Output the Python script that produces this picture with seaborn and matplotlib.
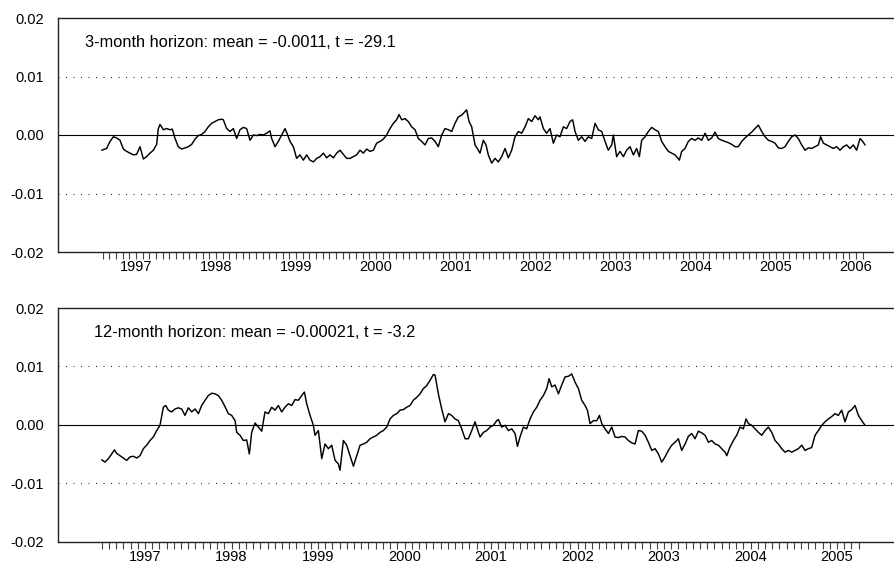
import matplotlib
matplotlib.use("Agg")
import matplotlib.pyplot as plt
import numpy as np
import pandas as pd
import seaborn as sns

# ---- 3-month horizon series (decimal year, value) ----
h3_years = [
    1996.571, 1996.633, 1996.675, 1996.717, 1996.758, 1996.800, 1996.842, 1996.883, 1996.925, 1996.967,
    1997.008, 1997.050, 1997.092, 1997.133, 1997.175, 1997.217, 1997.258, 1997.279, 1997.300, 1997.342,
    1997.383, 1997.425, 1997.454, 1997.488, 1997.529, 1997.571, 1997.613, 1997.654, 1997.696, 1997.738,
    1997.779, 1997.821, 1997.863, 1997.904, 1997.946, 1997.988, 1998.029, 1998.071, 1998.092, 1998.133,
    1998.175, 1998.217, 1998.258, 1998.300, 1998.342, 1998.383, 1998.425, 1998.467, 1998.508, 1998.550,
    1998.592, 1998.633, 1998.675, 1998.696, 1998.738, 1998.779, 1998.821, 1998.863, 1998.896, 1998.925,
    1998.967, 1999.008, 1999.050, 1999.092, 1999.133, 1999.175, 1999.217, 1999.258, 1999.300, 1999.342,
    1999.383, 1999.425, 1999.467, 1999.508, 1999.550, 1999.592, 1999.633, 1999.675, 1999.717, 1999.758,
    1999.800, 1999.842, 1999.883, 1999.925, 1999.967, 2000.008, 2000.050, 2000.092, 2000.133, 2000.175,
    2000.217, 2000.258, 2000.288, 2000.321, 2000.363, 2000.404, 2000.446, 2000.488, 2000.529, 2000.571,
    2000.613, 2000.654, 2000.696, 2000.738, 2000.779, 2000.821, 2000.863, 2000.904, 2000.946, 2000.988,
    2001.029, 2001.071, 2001.113, 2001.133, 2001.163, 2001.196, 2001.238, 2001.279,
    2001.300, 2001.342, 2001.375, 2001.404, 2001.446, 2001.488, 2001.529, 2001.571, 2001.613, 2001.654,
    2001.696, 2001.738, 2001.779, 2001.821, 2001.863, 2001.904, 2001.946, 2001.988, 2002.029, 2002.050,
    2002.092, 2002.133, 2002.175, 2002.217, 2002.258, 2002.300, 2002.342, 2002.383, 2002.425, 2002.458,
    2002.488, 2002.529, 2002.571, 2002.613, 2002.654, 2002.696, 2002.738, 2002.779, 2002.821, 2002.863,
    2002.904, 2002.946, 2002.967, 2003.008, 2003.050, 2003.092, 2003.133, 2003.175, 2003.217, 2003.258,
    2003.292, 2003.321, 2003.363, 2003.404, 2003.446, 2003.488, 2003.529, 2003.571, 2003.613, 2003.654,
    2003.696, 2003.738, 2003.792, 2003.821, 2003.863, 2003.904, 2003.946, 2003.988, 2004.029, 2004.071,
    2004.113, 2004.154, 2004.196, 2004.238, 2004.279, 2004.321, 2004.363, 2004.404, 2004.446, 2004.488,
    2004.529, 2004.571, 2004.613, 2004.654, 2004.696, 2004.738, 2004.779, 2004.821, 2004.863, 2004.904,
    2004.946, 2004.988, 2005.029, 2005.071, 2005.113, 2005.154, 2005.196, 2005.238, 2005.279, 2005.321,
    2005.363, 2005.404, 2005.446, 2005.488, 2005.529, 2005.558, 2005.592, 2005.633, 2005.675, 2005.717,
    2005.758, 2005.800, 2005.842, 2005.883, 2005.925, 2005.967, 2006.008, 2006.050, 2006.083, 2006.113,
]
h3_values = [
    -0.0026, -0.0023, -0.0011, -0.0003, -0.0005, -0.0009, -0.0024, -0.0028, -0.0031, -0.0034,
    -0.0033, -0.0020, -0.0041, -0.0037, -0.0031, -0.0026, -0.0016, 0.0011, 0.0018, 0.0009,
    0.0011, 0.0009, 0.0010, -0.0006, -0.0020, -0.0024, -0.0022, -0.0020, -0.0016, -0.0007,
    -0.0001, 0.0001, 0.0006, 0.0014, 0.0020, 0.0023, 0.0026, 0.0027, 0.0026, 0.0011,
    0.0006, 0.0011, -0.0006, 0.0009, 0.0013, 0.0011, -0.0009, 0.0000, -0.0001, 0.0001,
    0.0000, 0.0003, 0.0007, -0.0006, -0.0020, -0.0011, 0.0000, 0.0011, 0.0000, -0.0011,
    -0.0020, -0.0040, -0.0034, -0.0043, -0.0034, -0.0043, -0.0046, -0.0040, -0.0037, -0.0031,
    -0.0039, -0.0034, -0.0039, -0.0031, -0.0026, -0.0033, -0.0040, -0.0040, -0.0037, -0.0034,
    -0.0026, -0.0031, -0.0024, -0.0028, -0.0026, -0.0014, -0.0011, -0.0007, 0.0000, 0.0011,
    0.0020, 0.0026, 0.0035, 0.0026, 0.0028, 0.0023, 0.0014, 0.0009, -0.0006, -0.0011,
    -0.0017, -0.0006, -0.0005, -0.0011, -0.0020, 0.0000, 0.0011, 0.0009, 0.0006, 0.0020,
    0.0031, 0.0034, 0.0040, 0.0043, 0.0023, 0.0014, -0.0017, -0.0026,
    -0.0031, -0.0009, -0.0017, -0.0034, -0.0048, -0.0040, -0.0046, -0.0037, -0.0023, -0.0039,
    -0.0026, -0.0003, 0.0006, 0.0003, 0.0014, 0.0028, 0.0023, 0.0033, 0.0026, 0.0031,
    0.0011, 0.0003, 0.0011, -0.0014, 0.0000, -0.0003, 0.0014, 0.0011, 0.0023, 0.0026,
    0.0006, -0.0009, -0.0003, -0.0011, -0.0003, -0.0006, 0.0020, 0.0009, 0.0006, -0.0011,
    -0.0026, -0.0017, 0.0000, -0.0037, -0.0028, -0.0037, -0.0026, -0.0020, -0.0034, -0.0023,
    -0.0037, -0.0009, -0.0003, 0.0006, 0.0013, 0.0009, 0.0006, -0.0011, -0.0020, -0.0028,
    -0.0031, -0.0034, -0.0043, -0.0028, -0.0023, -0.0011, -0.0006, -0.0009, -0.0005, -0.0009,
    0.0003, -0.0009, -0.0005, 0.0005, -0.0006, -0.0009, -0.0011, -0.0013, -0.0016, -0.0020,
    -0.0020, -0.0011, -0.0005, 0.0000, 0.0005, 0.0011, 0.0017, 0.0006, -0.0003, -0.0009,
    -0.0011, -0.0014, -0.0022, -0.0023, -0.0020, -0.0011, -0.0003, 0.0000, -0.0006, -0.0017,
    -0.0026, -0.0022, -0.0023, -0.0020, -0.0017, -0.0003, -0.0014, -0.0017, -0.0020, -0.0023,
    -0.0020, -0.0026, -0.0020, -0.0017, -0.0023, -0.0017, -0.0026, -0.0006, -0.0011, -0.0017,
]

# ---- 12-month horizon series (decimal year, value) ----
h12_years = [
    1996.499, 1996.538, 1996.576, 1996.615, 1996.646, 1996.672, 1996.711, 1996.750, 1996.788, 1996.827,
    1996.865, 1996.904, 1996.942, 1996.981, 1997.019, 1997.058, 1997.096, 1997.135, 1997.173, 1997.212,
    1997.239, 1997.270, 1997.308, 1997.347, 1997.385, 1997.424, 1997.462, 1997.501, 1997.540, 1997.578,
    1997.617, 1997.655, 1997.694, 1997.732, 1997.771, 1997.809, 1997.848, 1997.886, 1997.925, 1997.963,
    1998.002, 1998.041, 1998.060, 1998.098, 1998.137, 1998.175, 1998.206, 1998.233, 1998.272, 1998.310,
    1998.349, 1998.387, 1998.426, 1998.464, 1998.503, 1998.541, 1998.580, 1998.618, 1998.657, 1998.696,
    1998.734, 1998.773, 1998.811, 1998.842, 1998.869, 1998.908, 1998.946, 1998.965, 1999.004, 1999.043,
    1999.081, 1999.120, 1999.158, 1999.197, 1999.235, 1999.254, 1999.293, 1999.331, 1999.370, 1999.409,
    1999.447, 1999.486, 1999.524, 1999.563, 1999.601, 1999.640, 1999.678, 1999.717, 1999.755, 1999.794,
    1999.833, 1999.871, 1999.910, 1999.948, 1999.987, 2000.025, 2000.064, 2000.102, 2000.141, 2000.179,
    2000.218, 2000.256, 2000.295, 2000.333, 2000.353, 2000.391, 2000.430, 2000.468, 2000.507, 2000.545,
    2000.584, 2000.622, 2000.661, 2000.700, 2000.738, 2000.777, 2000.815, 2000.854,
    2000.873, 2000.912, 2000.950, 2000.989, 2001.027, 2001.066, 2001.085, 2001.123, 2001.162, 2001.201,
    2001.239, 2001.278, 2001.305, 2001.335, 2001.374, 2001.412, 2001.451, 2001.490, 2001.528, 2001.567,
    2001.605, 2001.644, 2001.671, 2001.702, 2001.740, 2001.779, 2001.817, 2001.856, 2001.894, 2001.933,
    2001.971, 2002.010, 2002.048, 2002.087, 2002.114, 2002.145, 2002.183, 2002.222, 2002.253, 2002.280,
    2002.318, 2002.357, 2002.395, 2002.434, 2002.472, 2002.511, 2002.549, 2002.588, 2002.626, 2002.665,
    2002.703, 2002.742, 2002.781, 2002.819, 2002.858, 2002.896, 2002.935, 2002.973, 2003.012, 2003.050,
    2003.089, 2003.127, 2003.166, 2003.204, 2003.243, 2003.281, 2003.320, 2003.358, 2003.397, 2003.436,
    2003.474, 2003.513, 2003.551, 2003.590, 2003.628, 2003.667, 2003.705, 2003.725, 2003.763, 2003.802,
    2003.840, 2003.879, 2003.917, 2003.948, 2003.975, 2004.014, 2004.052, 2004.091, 2004.129, 2004.168,
    2004.206, 2004.245, 2004.283, 2004.322, 2004.360, 2004.399, 2004.437, 2004.476, 2004.515, 2004.553,
    2004.592, 2004.630, 2004.669, 2004.707, 2004.746, 2004.784, 2004.823, 2004.861, 2004.900, 2004.938,
    2004.977, 2005.015, 2005.054, 2005.092, 2005.131, 2005.170, 2005.208, 2005.247, 2005.285, 2005.324,
]
h12_values = [
    -0.0060, -0.0064, -0.0058, -0.0050, -0.0043, -0.0049, -0.0053, -0.0057, -0.0061, -0.0055,
    -0.0054, -0.0057, -0.0053, -0.0041, -0.0035, -0.0027, -0.0021, -0.0010, -0.0001, 0.0030,
    0.0033, 0.0025, 0.0022, 0.0027, 0.0029, 0.0027, 0.0016, 0.0029, 0.0022, 0.0027,
    0.0019, 0.0033, 0.0042, 0.0050, 0.0054, 0.0053, 0.0050, 0.0042, 0.0031, 0.0019,
    0.0016, 0.0007, -0.0013, -0.0018, -0.0027, -0.0026, -0.0050, -0.0013, 0.0003, -0.0004,
    -0.0011, 0.0022, 0.0019, 0.0030, 0.0025, 0.0033, 0.0022, 0.0030, 0.0036, 0.0033,
    0.0043, 0.0042, 0.0050, 0.0056, 0.0036, 0.0016, -0.0001, -0.0018, -0.0010, -0.0058,
    -0.0033, -0.0041, -0.0035, -0.0061, -0.0067, -0.0078, -0.0027, -0.0035, -0.0053, -0.0071,
    -0.0053, -0.0035, -0.0033, -0.0030, -0.0024, -0.0021, -0.0018, -0.0013, -0.0010, -0.0004,
    0.0010, 0.0016, 0.0019, 0.0025, 0.0026, 0.0030, 0.0033, 0.0042, 0.0047, 0.0053,
    0.0062, 0.0067, 0.0076, 0.0086, 0.0085, 0.0053, 0.0027, 0.0005, 0.0019, 0.0016,
    0.0010, 0.0007, -0.0007, -0.0024, -0.0024, -0.0010, 0.0005, -0.0013,
    -0.0021, -0.0013, -0.0010, -0.0004, -0.0001, 0.0007, 0.0009, -0.0004, -0.0001, -0.0010,
    -0.0007, -0.0015, -0.0037, -0.0021, -0.0004, -0.0007, 0.0010, 0.0022, 0.0030, 0.0042,
    0.0050, 0.0062, 0.0079, 0.0065, 0.0068, 0.0053, 0.0068, 0.0082, 0.0083, 0.0087,
    0.0073, 0.0062, 0.0042, 0.0033, 0.0025, 0.0002, 0.0007, 0.0007, 0.0016, 0.0002,
    -0.0007, -0.0015, -0.0004, -0.0021, -0.0022, -0.0020, -0.0021, -0.0027, -0.0031, -0.0033,
    -0.0010, -0.0011, -0.0018, -0.0030, -0.0044, -0.0041, -0.0050, -0.0064, -0.0055, -0.0044,
    -0.0035, -0.0030, -0.0024, -0.0044, -0.0033, -0.0020, -0.0015, -0.0024, -0.0011, -0.0014,
    -0.0018, -0.0030, -0.0027, -0.0033, -0.0035, -0.0041, -0.0047, -0.0053, -0.0038, -0.0027,
    -0.0018, -0.0004, -0.0007, 0.0010, 0.0002, -0.0001, -0.0007, -0.0013, -0.0018, -0.0010,
    -0.0004, -0.0013, -0.0027, -0.0033, -0.0041, -0.0047, -0.0044, -0.0047, -0.0044, -0.0041,
    -0.0035, -0.0044, -0.0041, -0.0039, -0.0018, -0.0010, -0.0001, 0.0005, 0.0010, 0.0014,
    0.0019, 0.0016, 0.0025, 0.0005, 0.0022, 0.0026, 0.0033, 0.0016, 0.0007, -0.0001,
]

y_ticks = [0.02, 0.01, 0.00, -0.01, -0.02]
y_tick_labels = ["0.02", "0.01", "0.00", "-0.01", "-0.02"]

panels = [
    {
        "years": h3_years, "values": h3_values,
        "xlim": (1996.025, 2006.4875),
        "first_month": (1996, 8), "last_month": (2006, 2),
        "title": "3-month horizon: mean = -0.0011, t = -29.1",
        "title_pos": (0.032, 0.897),
        "rect": [58 / 895, 1 - 252 / 565, 1 - 58 / 895, 234 / 565],
    },
    {
        "years": h12_years, "values": h12_values,
        "xlim": (1995.994, 2005.67),
        "first_month": (1996, 7), "last_month": (2005, 4),
        "title": "12-month horizon: mean = -0.00021, t = -3.2",
        "title_pos": (0.043, 0.893),
        "rect": [58 / 895, 1 - 541.5 / 565, 1 - 58 / 895, 233.5 / 565],
    },
]

sns.set_theme(style="white")
plt.rcParams["font.family"] = ["Liberation Sans", "DejaVu Sans"]
TICK_FS = 10.5
TITLE_FS = 11.8

fig = plt.figure(figsize=(8.95, 5.65), dpi=100)
fig.patch.set_facecolor("white")


def month_ticks(first, last):
    """Monthly tick positions (decimal years) and year labels on Januaries."""
    pos, labels = [], []
    y, m = first
    while (y, m) <= last:
        pos.append(y + (m - 1) / 12)
        labels.append(str(y) if m == 1 else "")
        m += 1
        if m > 12:
            y, m = y + 1, 1
    return pos, labels


for p in panels:
    ax = fig.add_axes(p["rect"])
    ax.set_facecolor("white")
    df = pd.DataFrame({"year": p["years"], "value": p["values"]})
    ax.axhline(0.0, color="black", lw=0.8, zorder=1)
    for gy in (0.01, -0.01):
        ax.axhline(gy, color="#222222", lw=0.75, ls=(0, (1, 6.2)), zorder=1)
    sns.lineplot(data=df, x="year", y="value", ax=ax, color="black",
                 lw=1.05, estimator=None, sort=False, zorder=3)

    ax.set_xlim(*p["xlim"])
    ax.set_ylim(-0.02, 0.02)
    ax.set_xlabel("")
    ax.set_ylabel("")

    pos, labels = month_ticks(p["first_month"], p["last_month"])
    ax.set_xticks(pos, labels=labels)
    ax.set_yticks(y_ticks, labels=y_tick_labels)
    ax.tick_params(axis="x", direction="out", length=5, width=0.8,
                   color="#444444", pad=1.0, labelsize=TICK_FS,
                   labelcolor="black", bottom=True)
    ax.tick_params(axis="y", length=0, pad=10, labelsize=TICK_FS,
                   labelcolor="black", left=True)
    ax.grid(False)

    ax.spines["right"].set_visible(False)
    for side in ("top", "left", "bottom"):
        ax.spines[side].set_visible(True)
        ax.spines[side].set_color("#222222")
        ax.spines[side].set_linewidth(1.0)

    ax.text(*p["title_pos"], p["title"], transform=ax.transAxes,
            ha="left", va="center", fontsize=TITLE_FS, color="black")

fig.savefig("out.png", dpi=100, facecolor="white")
